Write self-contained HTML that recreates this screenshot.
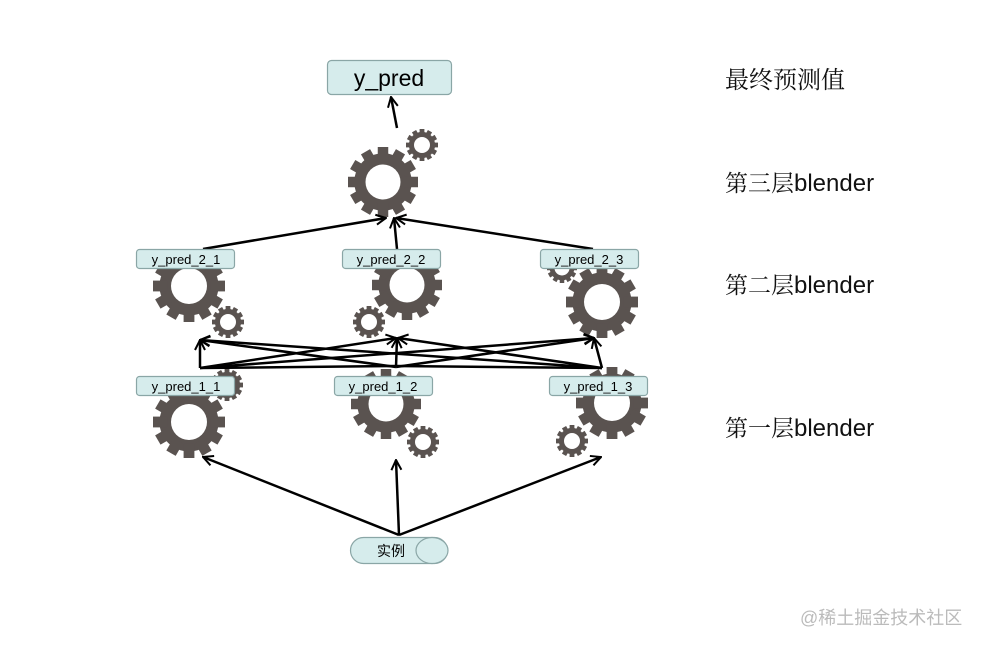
<!DOCTYPE html>
<html><head><meta charset="utf-8"><style>
body{margin:0;background:#fff}
svg{display:block}
.lab{font-family:"Liberation Sans",sans-serif;fill:#000}
.cn{font-family:"Liberation Serif","Noto Serif CJK SC",serif;font-size:23px;fill:#111}
.bl{font-family:"Liberation Sans",sans-serif;font-size:24px}
</style></head><body>
<svg width="981" height="648" viewBox="0 0 981 648" xmlns="http://www.w3.org/2000/svg">
<defs>
<g id="gear">
  <g fill="#5a5350">
    <circle r="0.82"/>
    <g id="t2"><rect x="-0.15" y="-1" width="0.3" height="0.4"/><rect x="-0.15" y="-1" width="0.3" height="0.4" transform="rotate(30)"/><rect x="-0.15" y="-1" width="0.3" height="0.4" transform="rotate(60)"/><rect x="-0.15" y="-1" width="0.3" height="0.4" transform="rotate(90)"/><rect x="-0.15" y="-1" width="0.3" height="0.4" transform="rotate(120)"/><rect x="-0.15" y="-1" width="0.3" height="0.4" transform="rotate(150)"/></g>
    <use href="#t2" transform="rotate(180)"/>
  </g>
  <circle r="0.5" fill="#fff"/>
</g>
<marker id="ar" viewBox="0 0 12 12" refX="11" refY="6" markerWidth="12" markerHeight="12" markerUnits="userSpaceOnUse" orient="auto">
  <path d="M1,1 L11,6 L1,11" fill="none" stroke="#000" stroke-width="2"/>
</marker>
</defs>

<use href="#gear" transform="translate(383,182) scale(35)"/>
<use href="#gear" transform="translate(422,145) scale(16)"/>

<use href="#gear" transform="translate(189,286) scale(36)"/>
<use href="#gear" transform="translate(228,322) scale(16)"/>
<use href="#gear" transform="translate(407,285) scale(35)"/>
<use href="#gear" transform="translate(369,322) scale(16)"/>
<use href="#gear" transform="translate(562,268) scale(15)"/>
<use href="#gear" transform="translate(602,302) scale(36)"/>

<use href="#gear" transform="translate(227,385) scale(16)"/>
<use href="#gear" transform="translate(189,422) scale(36)"/>
<use href="#gear" transform="translate(386,404) scale(35)"/>
<use href="#gear" transform="translate(423,442) scale(16)"/>
<use href="#gear" transform="translate(612,403) scale(36)"/>
<use href="#gear" transform="translate(572,441) scale(16)"/>

<g stroke="#000" stroke-width="2.5" fill="none" marker-end="url(#ar)">
  <line x1="397" y1="128" x2="391" y2="97"/>
  <line x1="203" y1="249" x2="386" y2="218"/>
  <line x1="397" y1="249" x2="394" y2="218"/>
  <line x1="593" y1="249" x2="396" y2="218"/>

  <line x1="200" y1="368" x2="200" y2="340"/>
  <line x1="200" y1="368" x2="396" y2="338"/>
  <line x1="200" y1="368" x2="594" y2="338"/>
  <line x1="396" y1="367" x2="200" y2="340"/>
  <line x1="396" y1="367" x2="397" y2="338"/>
  <line x1="396" y1="367" x2="594" y2="338"/>
  <line x1="602" y1="368" x2="200" y2="340"/>
  <line x1="602" y1="368" x2="398" y2="338"/>
  <line x1="602" y1="368" x2="594" y2="338"/>

  <line x1="399" y1="535" x2="203" y2="457"/>
  <line x1="399" y1="535" x2="396" y2="460"/>
  <line x1="399" y1="535" x2="601" y2="457"/>
</g>
<line x1="200" y1="368" x2="396" y2="366" stroke="#000" stroke-width="2.5"/>
<line x1="396" y1="366" x2="602" y2="368" stroke="#000" stroke-width="2.5"/>

<g fill="#d6ecec" stroke="#8aa6a6" stroke-width="1.2">
  <rect x="327.5" y="60.5" width="124" height="34" rx="4"/>
  <rect x="136.5" y="249.5" width="98" height="19" rx="3"/>
  <rect x="342.5" y="249.5" width="98" height="19" rx="3"/>
  <rect x="540.5" y="249.5" width="98" height="19" rx="3"/>
  <rect x="136.5" y="376.5" width="98" height="19" rx="3"/>
  <rect x="334.5" y="376.5" width="98" height="19" rx="3"/>
  <rect x="549.5" y="376.5" width="98" height="19" rx="3"/>
  <rect x="350.5" y="537.5" width="97" height="26" rx="13"/>
  <ellipse cx="432" cy="550.5" rx="16" ry="13"/>
</g>
<g class="lab" text-anchor="middle">
  <text x="389" y="86" font-size="23">y_pred</text>
  <text x="186" y="264" font-size="13">y_pred_2_1</text>
  <text x="391" y="264" font-size="13">y_pred_2_2</text>
  <text x="589" y="264" font-size="13">y_pred_2_3</text>
  <text x="186" y="391" font-size="13">y_pred_1_1</text>
  <text x="383" y="391" font-size="13">y_pred_1_2</text>
  <text x="598" y="391" font-size="13">y_pred_1_3</text>
  <text x="391" y="556" font-size="14" style='font-family:"Liberation Sans","Noto Sans CJK SC",sans-serif'>实例</text>
</g>

<text class="cn" x="725" y="88" font-size="24" style="font-size:24px">最终预测值</text>
<text class="cn" x="725" y="191">第三层<tspan class="bl">blender</tspan></text>
<text class="cn" x="725" y="293">第二层<tspan class="bl">blender</tspan></text>
<text class="cn" x="725" y="436">第一层<tspan class="bl">blender</tspan></text>

<text x="800" y="624" font-size="18" fill="#bbbbbb" style='font-family:"Liberation Sans","Noto Sans CJK SC",sans-serif'>@稀土掘金技术社区</text>
</svg>
</body></html>
